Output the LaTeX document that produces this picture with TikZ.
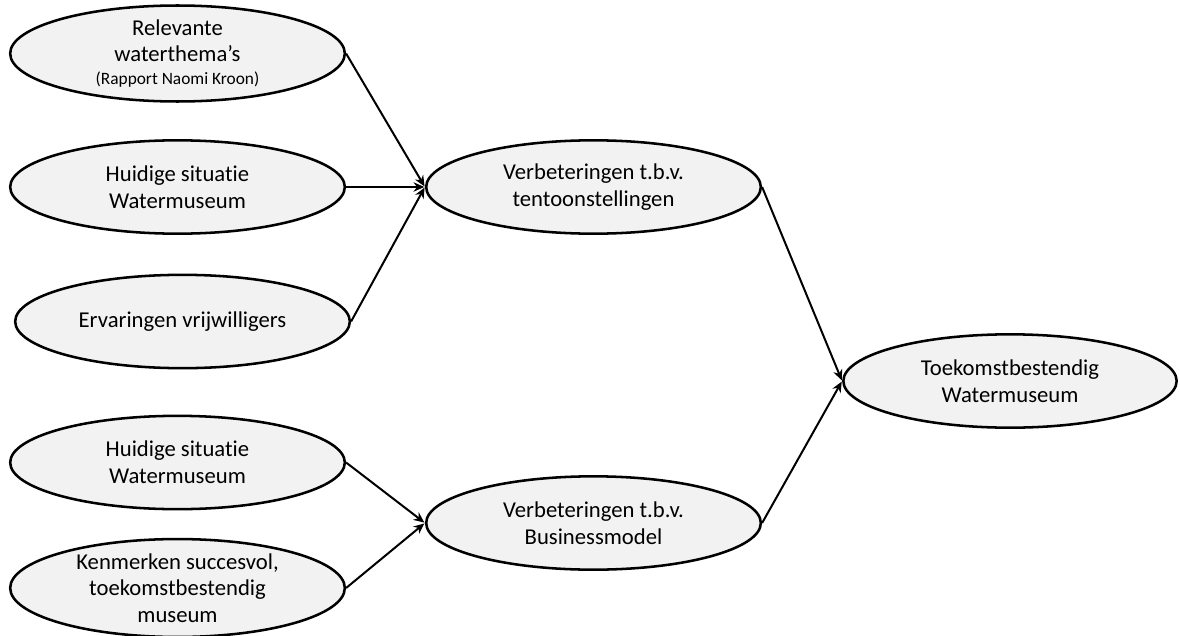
\documentclass[tikz,border=0pt]{standalone}
\usepackage{fontspec}
\setmainfont[Ligatures={NoCommon}]{Carlito}
\usetikzlibrary{shapes.geometric,arrows.meta}
\definecolor{ellfill}{HTML}{F2F2F2}
\tikzset{
  oval/.style={ellipse, draw=black, line width=1.9pt, fill=ellfill, inner sep=0pt,
    minimum width=251pt, minimum height=70pt, align=center,
    font=\fontsize{17}{20}\selectfont},
  conn/.style={line width=1.5pt, -{Stealth[length=8pt,width=7pt]}, shorten >=0.5pt}
}
\begin{document}
\begin{tikzpicture}[x=0.75pt,y=-0.75pt]
\useasboundingbox (0,0) rectangle (1180,635);
\node[oval] (e1) at (177.5,53.5) {Relevante\\waterthema’s\\[-3pt]{\fontsize{13}{15}\selectfont (Rapport Naomi Kroon)}};
\node[oval] (e2) at (177.5,187) {Huidige situatie\\Watermuseum};
\node[oval] (e3) at (182.5,321.5) {Ervaringen vrijwilligers};
\node[oval] (e4) at (177.5,462.5) {Huidige situatie\\Watermuseum};
\node[oval] (e5) at (177.5,588) {Kenmerken succesvol,\\toekomstbestendig\\museum};
\node[oval] (v1) at (593.5,187) {Verbeteringen t.b.v.\\tentoonstellingen};
\node[oval] (v2) at (593.5,523) {Verbeteringen t.b.v.\\Businessmodel};
\node[oval, minimum width=250pt] (t) at (1010,381) {Toekomstbestendig\\Watermuseum};
\draw[conn] (e1.east) -- (v1.west);
\draw[conn] (e2.east) -- (v1.west);
\draw[conn] (e3.east) -- (v1.west);
\draw[conn] (e4.east) -- (v2.west);
\draw[conn] (e5.east) -- (v2.west);
\draw[conn] (v1.east) -- (t.west);
\draw[conn] (v2.east) -- (t.west);
\end{tikzpicture}
\end{document}
